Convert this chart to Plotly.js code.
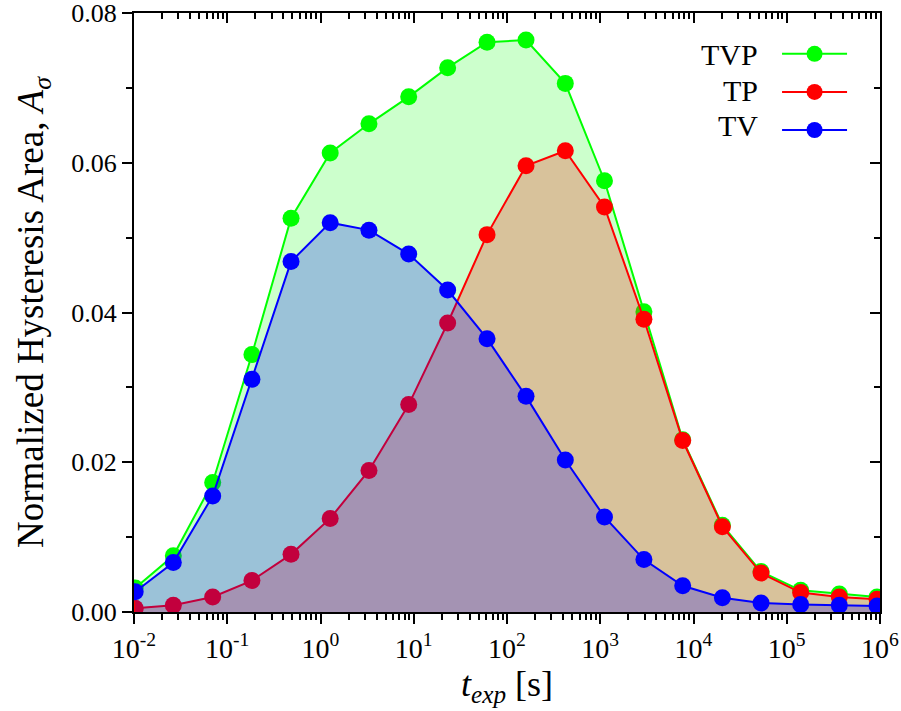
<!DOCTYPE html>
<html>
<head>
<meta charset="utf-8">
<script src="https://cdn.plot.ly/plotly-3.0.1.min.js"></script>
<style>
html,body{margin:0;padding:0;background:#fff;}
#chart{width:901px;height:711px;}
#chart text{font-family:"Liberation Serif","Times New Roman",Tinos,serif !important;}
</style>
</head>
<body>
<div id="chart"></div>
<script>
// exposure time t_exp [s]
const texp = [0.0103, 0.0264, 0.0698, 0.184, 0.483, 1.27, 3.31, 8.83, 23.1, 61.1,
              160, 422, 1110, 2940, 7660, 20400, 53000, 141000, 366000, 930000];
const tvp = [0.0032, 0.0075, 0.0173, 0.0344, 0.0526, 0.0613, 0.0652, 0.0688, 0.0727, 0.0761,
             0.0764, 0.0706, 0.0576, 0.0401, 0.0230, 0.0116, 0.0054, 0.0029, 0.0024, 0.0020];
const tp  = [0.0005, 0.0009, 0.0020, 0.0042, 0.0077, 0.0125, 0.0189, 0.0277, 0.0386, 0.0504,
             0.0596, 0.0616, 0.0541, 0.0391, 0.0229, 0.0114, 0.0052, 0.0026, 0.0020, 0.0017];
const tv  = [0.0027, 0.0066, 0.0155, 0.0311, 0.0468, 0.0520, 0.0510, 0.0478, 0.0430, 0.0365,
             0.0288, 0.0203, 0.0127, 0.0070, 0.0035, 0.0019, 0.0012, 0.0010, 0.0009, 0.0008];
const seriesNames = ['TVP', 'TP', 'TV'];
const xTickVals = [0.01, 0.1, 1, 10, 100, 1000, 10000, 100000, 1000000];
const xTickText = ['10<sup>-2</sup>', '10<sup>-1</sup>', '10<sup>0</sup>', '10<sup>1</sup>', '10<sup>2</sup>',
                   '10<sup>3</sup>', '10<sup>4</sup>', '10<sup>5</sup>', '10<sup>6</sup>'];
const yTickVals = [0, 0.02, 0.04, 0.06, 0.08];
const yTickText = ['0.00', '0.02', '0.04', '0.06', '0.08'];

const FONT = 'Liberation Serif';

function fillTrace(y, fill) {
  return {x: texp, y: y, type: 'scatter', mode: 'none', fill: 'tozeroy', fillcolor: fill,
          showlegend: false, hoverinfo: 'skip', cliponaxis: true};
}
function lineTrace(y, color) {
  return {x: texp, y: y, type: 'scatter', mode: 'lines+markers', name: ' ',
          line: {color: color, width: 2}, marker: {color: color, size: 17, line: {width: 0}},
          cliponaxis: true};
}
const data = [
  fillTrace(tvp, 'rgba(0,255,0,0.2)'), lineTrace(tvp, 'rgb(0,255,0)'),
  fillTrace(tp, 'rgba(255,0,0,0.24)'), lineTrace(tp, 'rgb(255,0,0)'),
  fillTrace(tv, 'rgba(0,0,255,0.24)'), lineTrace(tv, 'rgb(0,0,255)'),
  // empty trace that registers the mirrored (top / right) frame axes
  {x: [], y: [], type: 'scatter', mode: 'markers', xaxis: 'x2', yaxis: 'y2', showlegend: false, hoverinfo: 'skip'}
];

const axisCommon = {showgrid: false, zeroline: false, showline: true, linecolor: '#000', linewidth: 2,
                    tickcolor: '#000', tickwidth: 2};

const layout = {
  width: 901, height: 711,
  margin: {l: 134, r: 21, t: 13, b: 99},
  paper_bgcolor: '#fff', plot_bgcolor: '#fff',
  font: {family: FONT, color: '#000'},
  showlegend: true,
  legend: {x: 0.862, y: 0.972, xanchor: 'left', yanchor: 'top', bgcolor: 'rgba(0,0,0,0)',
           font: {size: 27, family: FONT, color: '#000'}, itemwidth: 65, traceorder: 'normal'},
  xaxis: Object.assign({}, axisCommon, {
    type: 'log', range: [-2, 6], tickmode: 'array', tickvals: xTickVals, ticktext: xTickText,
    ticks: 'outside', ticklen: 10, ticklabeloverflow: 'allow',
    minor: {ticks: 'outside', ticklen: 6, dtick: 'D1', tickcolor: '#000', tickwidth: 2},
    tickfont: {size: 28, family: FONT, color: '#000'},
    title: {text: '<i>t</i><sub><i>exp</i></sub> [s]', font: {size: 36, family: FONT, color: '#000'}, standoff: 4}
  }),
  yaxis: Object.assign({}, axisCommon, {
    range: [0, 0.08], tickmode: 'array', tickvals: yTickVals, ticktext: yTickText,
    ticks: 'outside', ticklen: 10, ticklabeloverflow: 'allow',
    minor: {ticks: 'outside', ticklen: 6, dtick: 0.01, tick0: 0, tickcolor: '#000', tickwidth: 2},
    tickfont: {size: 26, family: FONT, color: '#000'},
    title: {text: 'Normalized Hysteresis Area, <i>A</i><sub><i>σ</i></sub>', font: {size: 37, family: FONT, color: '#000'}, standoff: 16}
  }),
  xaxis2: Object.assign({}, axisCommon, {
    type: 'log', range: [-2, 6], overlaying: 'x', side: 'top', anchor: 'y2',
    tickmode: 'linear', tick0: 0, dtick: 1, ticks: 'inside', ticklen: 10, showticklabels: false,
    minor: {ticks: 'inside', ticklen: 6, dtick: 'D1', tickcolor: '#000', tickwidth: 2}
  }),
  yaxis2: Object.assign({}, axisCommon, {
    range: [0, 0.08], overlaying: 'y', side: 'right', anchor: 'x2',
    tickmode: 'linear', dtick: 0.02, tick0: 0, ticks: 'inside', ticklen: 10, showticklabels: false,
    minor: {ticks: 'inside', ticklen: 6, dtick: 0.01, tick0: 0, tickcolor: '#000', tickwidth: 2}
  }),
  annotations: seriesNames.map((n, i) => ({
    xref: 'paper', yref: 'paper', x: 0.839, y: [0.930, 0.8706, 0.8122][i],
    xanchor: 'right', yanchor: 'middle', showarrow: false, text: n,
    font: {size: 30, family: FONT, color: '#000'}
  }))
};

Plotly.newPlot('chart', data, layout, {displayModeBar: false});
</script>
</body>
</html>
